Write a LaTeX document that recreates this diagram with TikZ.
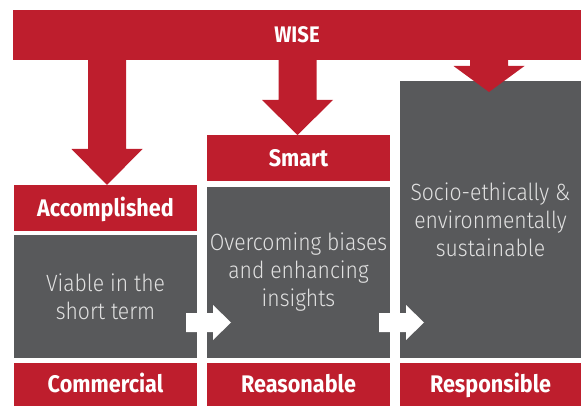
\documentclass[tikz,border=0pt]{standalone}
\usepackage{fontspec}
\setmainfont{Fira Sans}
\newfontfamily\lightfont{Fira Sans Light}[FakeStretch=0.9]
\newfontfamily\boldfont{Fira Sans}[FakeStretch=0.9]
\definecolor{wred}{RGB}{190,30,45}
\definecolor{wgray}{RGB}{88,89,91}
\definecolor{wtext}{RGB}{225,225,225}
\newcommand\redarr[4]{%
  \fill[wred] (#1-19,#2) -- (#1+19,#2) -- (#1+19,#3) -- (#1+35.5,#3) -- (#1,#4) -- (#1-35.5,#3) -- (#1-19,#3) -- cycle;}
\newcommand\whitearr[2]{%
  \fill[white] (#1,#2-9.5) -- (#1+27,#2-9.5) -- (#1+27,#2-17.5) -- (#1+45,#2) -- (#1+27,#2+17.5) -- (#1+27,#2+9.5) -- (#1,#2+9.5) -- cycle;}
\begin{document}
\begin{tikzpicture}[x=1pt,y=-1pt,
  redbox/.style={fill=wred, inner sep=0pt, outer sep=0pt, anchor=north west, text=white,
    text height=16.5pt, text depth=0pt,
    font=\boldfont\bfseries\fontsize{24}{24}\selectfont},
  graybox/.style={fill=wgray, inner sep=0pt, outer sep=0pt, anchor=north west, text=wtext,
    align=center, font=\lightfont\fontsize{23.5}{28}\selectfont}]
\useasboundingbox (0,0) rectangle (581,406);
\node[redbox, minimum width=568pt, minimum height=50pt, font=\boldfont\bfseries\fontsize{22.5}{22.5}\selectfont, text height=15.5pt] (wise) at (13,10) {WISE};
\node[redbox, minimum width=183pt, minimum height=46pt] (acc) at (14,185) {Accomplished};
\node[redbox, minimum width=183pt, minimum height=46pt] (smart) at (207,135) {Smart};
\node[graybox, minimum width=183pt, minimum height=123pt] (g1) at (14,235) {Viable in the\\short term};
\node[graybox, minimum width=183pt, minimum height=171pt] (g2) at (207,187) {Overcoming biases\\and enhancing\\insights};
\node[graybox, minimum width=181pt, minimum height=277pt] (g3) at (400,81) {Socio-ethically \&\\environmentally\\sustainable};
\node[redbox, minimum width=183pt, minimum height=43pt] (com) at (14,363) {Commercial};
\node[redbox, minimum width=183pt, minimum height=43pt] (rea) at (207,363) {Reasonable};
\node[redbox, minimum width=181pt, minimum height=43pt] (res) at (400,363) {Responsible};
\redarr{107}{59}{149}{185}
\redarr{297.5}{59}{100}{135}
\redarr{489}{59}{66}{92}
\whitearr{186}{322.5}
\whitearr{379}{322.5}
\end{tikzpicture}
\end{document}
